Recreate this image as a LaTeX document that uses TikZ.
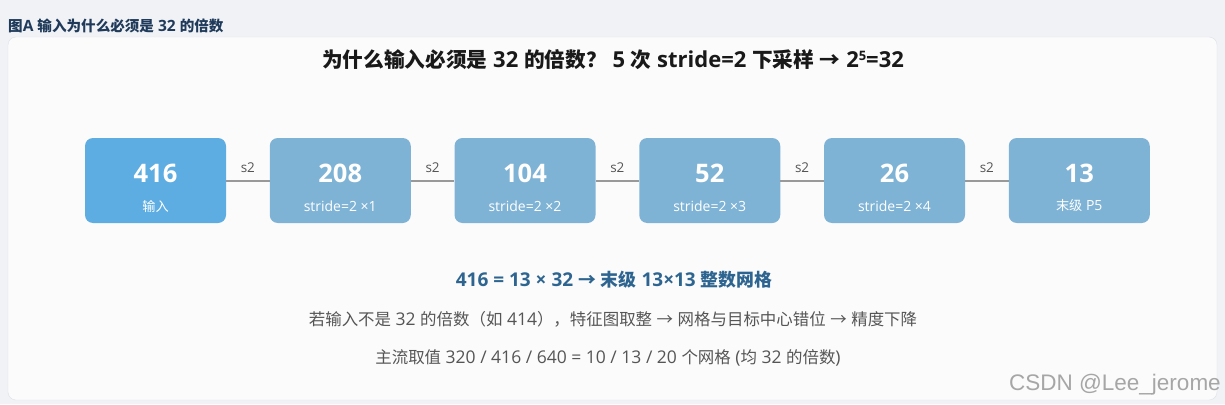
\documentclass[tikz,border=0pt]{standalone}
\usepackage{fontspec}
\setmainfont{Open Sans}
\newfontfamily\cjk[Scale=0.94]{Noto Sans CJK SC}
\newfontfamily\wmfont{Liberation Sans}
\newcommand{\zh}[1]{{\cjk #1}}
\definecolor{pagebg}{HTML}{F0F2F5}
\definecolor{panelbg}{HTML}{FBFBFC}
\definecolor{panelline}{HTML}{DDE2EA}
\definecolor{headcol}{HTML}{1F3A5A}
\definecolor{boxA}{HTML}{5DADE2}
\definecolor{boxB}{HTML}{7FB3D5}
\definecolor{linkcol}{HTML}{999999}
\definecolor{labcol}{HTML}{555555}
\definecolor{bluetext}{HTML}{2E6590}
\begin{document}
\begin{tikzpicture}[x=1pt,y=-1pt,
  stagebox/.style={rounded corners=8pt,minimum width=141pt,minimum height=85pt,inner sep=0pt,draw=none},
  bignum/.style={text=white,font=\fontsize{25.5}{28}\selectfont\bfseries},
  subtxt/.style={text=white,font=\fontsize{14}{16}\selectfont},
  link/.style={draw=linkcol,line width=2pt},
  slab/.style={text=labcol,font=\fontsize{13.5}{15}\selectfont},
  bodytxt/.style={text=labcol,font=\fontsize{17.5}{20}\selectfont}]
\useasboundingbox (0,0) rectangle (1225,404);
\fill[pagebg] (0,0) rectangle (1225,404);
\draw[panelline,fill=panelbg,rounded corners=8pt] (8,37) rectangle (1217,400);
\node[anchor=west,text=headcol,font=\fontsize{15.5}{17}\selectfont\bfseries,inner sep=0pt] (head) at (8,26) {\zh{图}A \zh{输入为什么必须是} 32 \zh{的倍数}};
\node[font=\fontsize{22}{24}\selectfont\bfseries,text=black!90] (title) at (613,60) {\zh{为什么输入必须是} 32 \zh{的倍数？} 5 \zh{次} stride=2 \zh{下采样} \zh{→} 2\raisebox{0.6ex}{\fontsize{13}{13}\selectfont 5}=32};
% boxes
\foreach \i/\n/\s/\c in {0/416/\zh{输入}/boxA,1/208/stride=2 ×1/boxB,2/104/stride=2 ×2/boxB,3/52/stride=2 ×3/boxB,4/26/stride=2 ×4/boxB,5/13/\zh{末级} P5/boxB}{
  \node[stagebox,fill=\c] (b\i) at ({155.5+184.75*\i},180.5) {};
  \node[bignum] (n\i) at ({155.5+184.75*\i},173) {\n};
  \node[subtxt] (s\i) at ({155.5+184.75*\i},206) {\s};
}
\foreach \a/\b in {0/1,1/2,2/3,3/4,4/5}{
  \draw[link] (b\a.east) -- (b\b.west) node[midway,slab,above=4pt] {s2};
}
\node[text=bluetext,font=\fontsize{19}{21}\selectfont\bfseries] (l1) at (614,280) {416 = 13 × 32 \zh{→} \zh{末级} 13×13 \zh{整数网格}};
\node[bodytxt] (l2) at (613,319) {\zh{若输入不是} 32 \zh{的倍数（如} 414\zh{），特征图取整} \zh{→} \zh{网格与目标中心错位} \zh{→} \zh{精度下降}};
\node[bodytxt] (l3) at (608,358) {\zh{主流取值} 320 / 416 / 640 = 10 / 13 / 20 \zh{个网格} (\zh{均} 32 \zh{的倍数})};
\node[anchor=east,text=black!35,font=\wmfont\fontsize{22.5}{25}\selectfont,inner sep=0pt] (wm) at (1221,385) {CSDN @Lee\_jerome};
\end{tikzpicture}
\end{document}
